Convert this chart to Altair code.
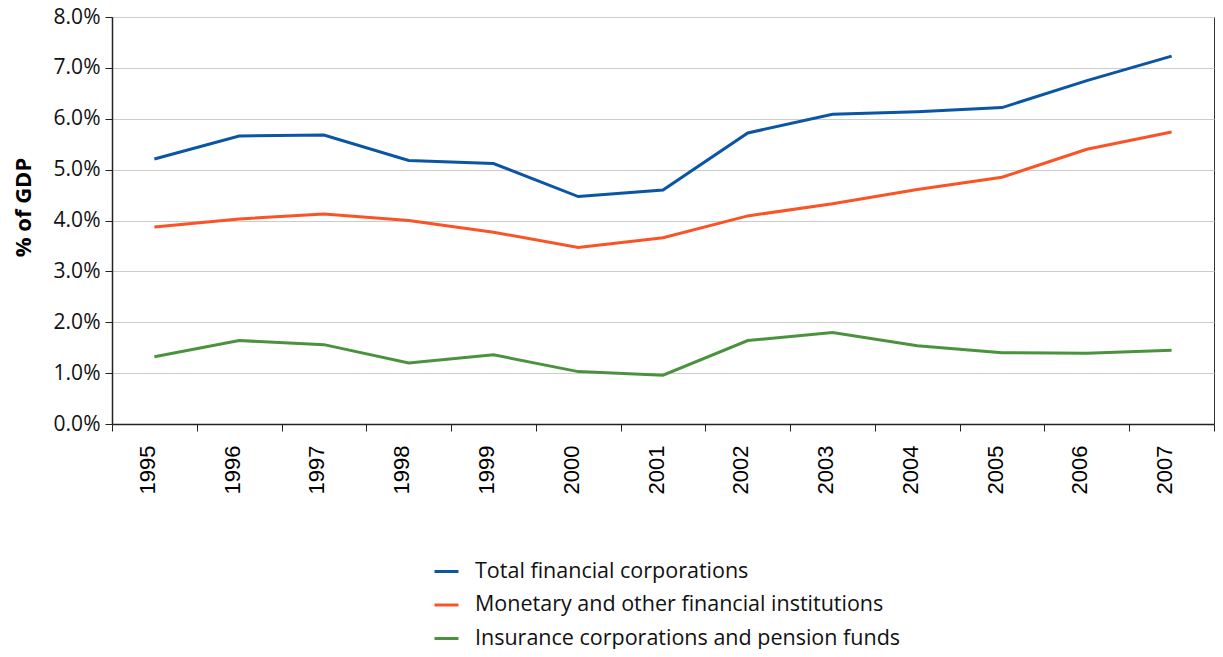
import altair as alt
import pandas as pd

years = [str(y) for y in range(1995, 2008)]
series = [
    "Total financial corporations",
    "Monetary and other financial institutions",
    "Insurance corporations and pension funds",
]
total = [5.21, 5.66, 5.68, 5.18, 5.12, 4.47, 4.60, 5.72, 6.09, 6.14, 6.22, 6.75, 7.23]
monetary = [3.87, 4.03, 4.13, 4.00, 3.77, 3.47, 3.66, 4.09, 4.33, 4.61, 4.85, 5.40, 5.74]
insurance = [1.32, 1.64, 1.56, 1.20, 1.36, 1.03, 0.96, 1.64, 1.80, 1.54, 1.40, 1.39, 1.45]
y_ticks = [0, 1, 2, 3, 4, 5, 6, 7, 8]
colors = ["#0a55a4", "#fa5426", "#4b923e"]

rows = []
for name, vals in zip(series, [total, monetary, insurance]):
    for yr, v in zip(years, vals):
        rows.append({"year": yr, "value": v, "series": name})
df = pd.DataFrame(rows)

chart = (
    alt.Chart(df)
    .mark_line(strokeWidth=3)
    .encode(
        x=alt.X(
            "year:O",
            sort=years,
            scale=alt.Scale(type="band", paddingInner=0, paddingOuter=0),
            axis=alt.Axis(
                title=None,
                labelAngle=270,
                labelAlign="right",
                labelBaseline="alphabetic",
                tickBand="extent",
                ticks=True,
                tickSize=7,
                tickColor="#222222",
                domainColor="#222222",
                domainWidth=1.5,
                labelPadding=14,
                labelFont="Liberation Sans",
                labelFontSize=22,
                labelColor="#000000",
                grid=False,
            ),
        ),
        y=alt.Y(
            "value:Q",
            scale=alt.Scale(domain=[0, 8], nice=False),
            axis=alt.Axis(
                values=y_ticks,
                labelExpr="format(datum.value, '.1f') + '%'",
                title="% of GDP",
                titleFont="Open Sans",
                titleFontSize=22,
                titleFontWeight="bold",
                titleColor="#000000",
                titleAngle=270,
                titleX=-89,
                titleY=190,
                titleAlign="center",
                titleBaseline="middle",
                labelFont="Open Sans",
                labelFontSize=21,
                labelColor="#111111",
                labelPadding=5,
                tickSize=7,
                tickColor="#222222",
                domainColor="#222222",
                domainWidth=1.5,
                gridColor="#cccccc",
                gridWidth=1,
            ),
        ),
        color=alt.Color(
            "series:N",
            sort=series,
            scale=alt.Scale(domain=series, range=colors),
            legend=alt.Legend(
                title=None,
                orient="none",
                legendX=321,
                legendY=541,
                direction="vertical",
                symbolType="stroke",
                symbolSize=576,
                symbolStrokeWidth=3,
                labelFont="Open Sans",
                labelFontSize=21.5,
                labelColor="#111111",
                labelOffset=15,
                labelLimit=0,
                rowPadding=9.5,
                padding=0,
            ),
        ),
    )
    .properties(
        width=1102,
        height=407,
        autosize=alt.AutoSizeParams(type="none"),
        padding={"left": 104, "top": 9, "right": 1, "bottom": 225},
    )
    .configure_view(stroke="#333333", strokeWidth=1)
)

chart.save("out.html", embed_options={"renderer": "svg", "actions": False})
